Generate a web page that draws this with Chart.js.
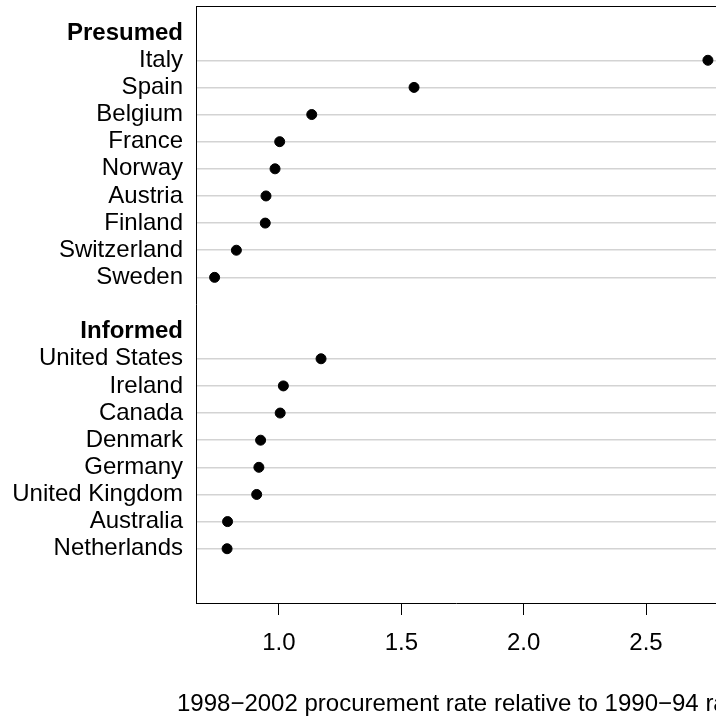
<!DOCTYPE html>
<html>
<head>
<meta charset="utf-8">
<script src="https://cdn.jsdelivr.net/npm/chart.js@4"></script>
<style>
  body { margin: 0; background: #fff; overflow: hidden; }
  #wrap { width: 716px; height: 719px; }
</style>
</head>
<body>
<div id="wrap"><canvas id="dotplot"></canvas></div>
<script>
// values
const presumedCountries = ['Italy', 'Spain', 'Belgium', 'France', 'Norway', 'Austria', 'Finland', 'Switzerland', 'Sweden'];
const presumedRates = [2.753, 1.552, 1.134, 1.003, 0.984, 0.947, 0.944, 0.826, 0.737];
const informedCountries = ['United States', 'Ireland', 'Canada', 'Denmark', 'Germany', 'United Kingdom', 'Australia', 'Netherlands'];
const informedRates = [1.172, 1.018, 1.005, 0.925, 0.918, 0.909, 0.790, 0.788];
const groupNames = ['Presumed', 'Informed'];
const xTicks = [1.0, 1.5, 2.0, 2.5];
const xTitle = '1998\u22122002 procurement rate relative to 1990\u221294 rate';

// rows top to bottom: header, countries, blank, header, countries
let rows = [];
let isHeader = [];
let points = [];

rows.push(groupNames[0]); isHeader.push(true);
presumedCountries.forEach((c, i) => {
    points.push({ x: presumedRates[i], y: rows.length });
    rows.push(c); isHeader.push(false);
});
rows.push(''); isHeader.push(true);
rows.push(groupNames[1]); isHeader.push(true);
informedCountries.forEach((c, i) => {
    points.push({ x: informedRates[i], y: rows.length });
    rows.push(c); isHeader.push(false);
});

const FONT = "'Liberation Sans', Arial, Helvetica, sans-serif";

// draws the top line of the box and the x axis title
const framePlugin = {
    id: 'frame',
    afterDraw(chart) {
        const { ctx, chartArea } = chart;
        ctx.save();
        ctx.strokeStyle = '#000';
        ctx.lineWidth = 1;
        ctx.beginPath();
        ctx.moveTo(chartArea.left, chartArea.top + 0.5);
        ctx.lineTo(chartArea.right, chartArea.top + 0.5);
        ctx.stroke();

        ctx.fillStyle = '#000';
        ctx.font = '24px ' + FONT;
        ctx.textAlign = 'left';
        ctx.textBaseline = 'middle';
        ctx.fillText(xTitle, 177, 704);
        ctx.restore();
    }
};

const ctx = document.getElementById('dotplot').getContext('2d');
const dotplot = new Chart(ctx, {
    type: 'scatter',
    data: {
        datasets: [{
            data: points,
            backgroundColor: '#000',
            borderColor: '#000',
            pointRadius: 5,
            pointHoverRadius: 5,
            clip: false
        }]
    },
    options: {
        responsive: true,
        maintainAspectRatio: false,
        animation: false,
        layout: { autoPadding: false, padding: { top: 6, left: 0, right: 0, bottom: 0 } },
        plugins: {
            legend: { display: false },
            tooltip: { enabled: false }
        },
        scales: {
            x: {
                type: 'linear',
                min: 0.661,
                max: 2.786,
                afterBuildTicks: (scale) => {
                    scale.ticks = xTicks.map(v => ({ value: v }));
                },
                afterFit: (scale) => {
                    scale.height = 116;
                    scale.paddingLeft = 0;
                    scale.paddingRight = 0;
                },
                grid: {
                    drawOnChartArea: false,
                    tickLength: 12,
                    tickColor: '#000'
                },
                border: { color: '#000', width: 1 },
                ticks: {
                    color: '#000',
                    padding: 14,
                    maxRotation: 0,
                    font: { family: FONT, size: 24 },
                    callback: (v) => Number(v).toFixed(1)
                }
            },
            y: {
                type: 'linear',
                reverse: true,
                min: -1,
                max: 21,
                afterBuildTicks: (scale) => {
                    scale.ticks = rows.map((r, i) => ({ value: i }));
                },
                afterFit: (scale) => {
                    scale.width = 196;
                    scale.paddingTop = 0;
                    scale.paddingBottom = 0;
                },
                grid: {
                    drawTicks: false,
                    lineWidth: 1.5,
                    color: (c) => (c.tick && !isHeader[c.tick.value]) ? '#d3d3d3' : 'rgba(0,0,0,0)'
                },
                border: { color: '#000', width: 1 },
                ticks: {
                    color: '#000',
                    padding: 13,
                    autoSkip: false,
                    font: (c) => ({
                        family: FONT,
                        size: 24,
                        weight: (c.tick && isHeader[c.tick.value]) ? 'bold' : 'normal'
                    }),
                    callback: (v) => rows[v]
                }
            }
        }
    },
    plugins: [framePlugin]
});
</script>
</body>
</html>
